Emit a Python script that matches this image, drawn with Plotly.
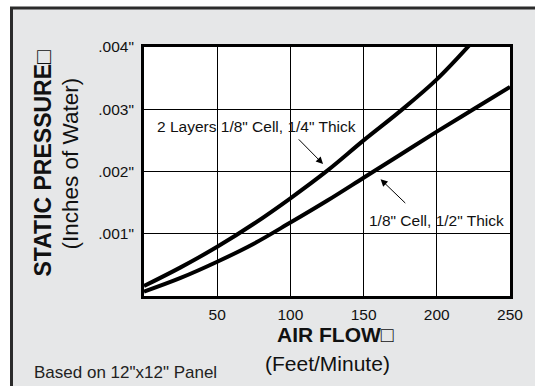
import plotly.graph_objects as go

# Data
air_flow = [0, 25, 50, 75, 100, 125, 150, 175, 200, 225, 250]
two_layers = [0.00016, 0.00046, 0.00079, 0.00116, 0.00157, 0.00201, 0.00250, 0.00297, 0.00348, 0.00410, None]
half_inch = [0.00007, 0.00029, 0.00055, 0.00084, 0.00118, 0.00153, 0.00190, 0.00227, 0.00264, 0.00300, 0.00336]

x_ticks = [50, 100, 150, 200, 250]
x_labels = ['50', '100', '150', '200', '250']
y_ticks = [0.001, 0.002, 0.003, 0.004]
y_labels = ['.001"', '.002"', '.003"', '.004"']

FONT = 'Liberation Sans, Arial, sans-serif'
BG = '#e6e7e8'
INK = '#111111'

# plot area in pixels (for placing paper-referenced labels)
L, R, T, B = 144, 510, 47, 296


def px(x):
    return (x - L) / (R - L)


def py(y):
    return (B - y) / (B - T)


fig = go.Figure()

for series in (two_layers, half_inch):
    fig.add_trace(go.Scatter(x=air_flow, y=series, mode='lines',
                             line=dict(color='black', width=4, shape='spline'),
                             showlegend=False, hoverinfo='skip'))

fig.update_layout(width=535, height=386,
                  margin=dict(l=L, r=535 - R, t=T, b=386 - B),
                  paper_bgcolor=BG,
                  plot_bgcolor='white',
                  font=dict(family=FONT, color=INK, size=15))

fig.update_xaxes(range=[0, 250], tickvals=x_ticks, ticktext=x_labels,
                 showline=True, mirror=True, linecolor='black', linewidth=3,
                 showgrid=True, gridcolor='black', gridwidth=1, zeroline=False,
                 ticks='outside', ticklen=2, tickcolor='rgba(0,0,0,0)',
                 tickfont=dict(size=15.5, color=INK))
fig.update_yaxes(range=[0, 0.004], tickvals=y_ticks, ticktext=y_labels,
                 showline=True, mirror=True, linecolor='black', linewidth=3,
                 showgrid=True, gridcolor='black', gridwidth=1, zeroline=False,
                 ticks='outside', ticklen=4, tickcolor='rgba(0,0,0,0)',
                 tickfont=dict(size=15.5, color=INK))

# outer panel: white margin strips and dark frame line on top / left
fig.add_shape(type='rect', xref='paper', yref='paper', x0=-1, x1=px(10), y0=-1, y1=2,
              fillcolor='white', line_width=0, layer='below')
fig.add_shape(type='rect', xref='paper', yref='paper', x0=-1, x1=2, y0=py(7), y1=2,
              fillcolor='white', line_width=0, layer='below')
fig.add_shape(type='line', xref='paper', yref='paper', x0=px(11.5), x1=px(11.5), y0=-1, y1=py(8),
              line=dict(color='#2b2b2b', width=3))
fig.add_shape(type='line', xref='paper', yref='paper', x0=px(10), x1=2, y0=py(8), y1=py(8),
              line=dict(color='#2b2b2b', width=3))


# axis titles
def label(text, x, y, size, **kw):
    fig.add_annotation(text=text, xref='paper', yref='paper', x=px(x), y=py(y),
                       xanchor=kw.pop('xanchor', 'center'), yanchor='middle',
                       showarrow=False, font=dict(size=size, color=kw.pop('color', INK)),
                       **kw)


label('<b>STATIC PRESSURE□</b>', 42.5, 163, 23, textangle=-90)
label('(Inches of Water)', 69.5, 164, 22.5, textangle=-90)
label('<b>AIR FLOW□</b>', 335, 334, 21)
label('(Feet/Minute)', 327, 363, 21)
label('Based on 12"x12" Panel', 31.5, 372, 17, xanchor='left', color='#222222')

# curve labels with pointer arrows
fig.add_annotation(text='2 Layers 1/8" Cell, 1/4" Thick', x=77, y=0.00273,
                   showarrow=False, font=dict(size=15.5, color=INK))
fig.add_annotation(x=122.3, y=0.00212, ax=104.7, ay=0.00254, axref='x', ayref='y',
                   text='', showarrow=True, arrowhead=2, arrowsize=1.4,
                   arrowwidth=1, arrowcolor='black')
fig.add_annotation(text='1/8" Cell, 1/2" Thick', x=200, y=0.00122,
                   showarrow=False, font=dict(size=15.5, color=INK))
fig.add_annotation(x=161.6, y=0.001875, ax=179.5, ay=0.00147, axref='x', ayref='y',
                   text='', showarrow=True, arrowhead=2, arrowsize=1.4,
                   arrowwidth=1, arrowcolor='black')

# page body has a default 8px margin; remove it so the figure fills the window
fig.write_html('out.html', config={'displayModeBar': False},
               post_script="document.body.style.margin='0';")
